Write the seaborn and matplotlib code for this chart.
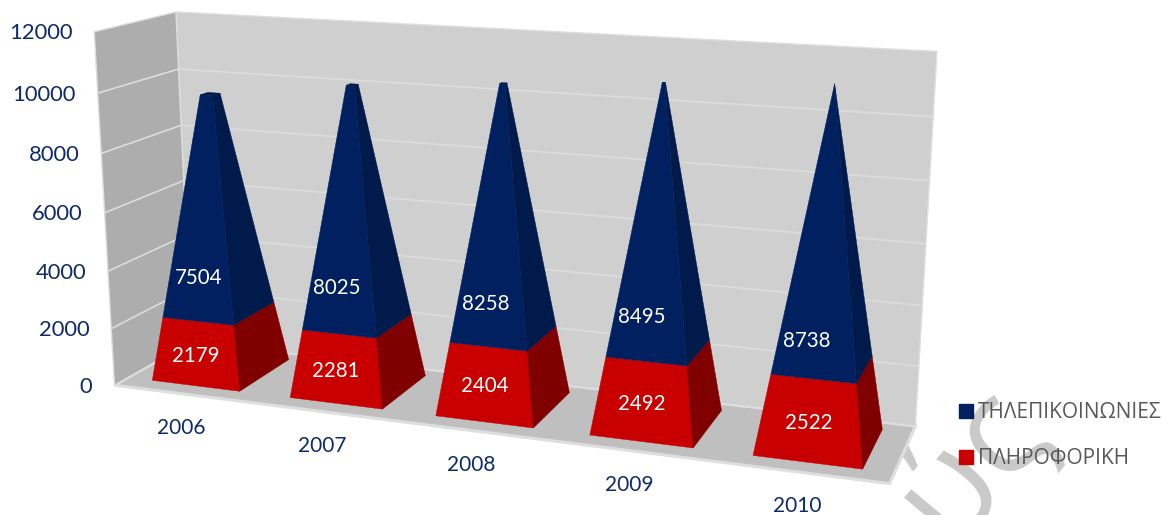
import numpy as np
import pandas as pd
import seaborn as sns
import matplotlib
matplotlib.use("Agg")
import matplotlib.pyplot as plt
from matplotlib.patches import Patch, Polygon

years = ["2006", "2007", "2008", "2009", "2010"]
informatics = [2179, 2281, 2404, 2492, 2522]
telecoms = [7504, 8025, 8258, 8495, 8738]
value_ticks = [0, 2000, 4000, 6000, 8000, 10000, 12000]
series_names = ["ΤΗΛΕΠΙΚΟΙΝΩΝΙΕΣ", "ΠΛΗΡΟΦΟΡΙΚΗ"]

frame = pd.DataFrame({"year": years, "informatics": informatics, "telecoms": telecoms})

sns.set_theme(style="white")
plt.rcParams["font.family"] = ["Lato", "Open Sans", "DejaVu Sans"]

NAVY, NAVY_SIDE = "#002060", "#001A4B"
RED, RED_SIDE = "#C80000", "#800000"
AXIS_TEXT = "#0E2A69"

# Camera calibration: box coordinates (along, depth, value/12000) to canvas pixels.
camera_refs = [
    ((0, 0, 0), (115, 384)), ((0, 0, 1), (94, 32)), ((0, 1, 1), (176, 12)),
    ((0, 1, 0), (191, 343)), ((1, 1, 1), (937, 51)), ((1, 1, 0), (915, 425)),
    ((1, 0, 0), (890, 484)), ((0, 0, 5 / 6), (98, 94)), ((0, 0, 1 / 3), (107, 271)),
    ((0, 1, 5 / 6), (179, 68)), ((1, 1, 5 / 6), (933, 117)), ((1, 1, 1 / 6), (919, 367)),
]


def solve_camera(refs):
    rows, rhs = [], []
    for (a, b, c), (u, v) in refs:
        rows.append([a, b, c, 1, 0, 0, 0, 0, -u * a, -u * b, -u * c])
        rows.append([0, 0, 0, 0, a, b, c, 1, -v * a, -v * b, -v * c])
        rhs += [u, v]
    sol = np.linalg.lstsq(np.array(rows, float), np.array(rhs, float), rcond=None)[0]
    return np.append(sol, 1.0).reshape(3, 4)


CAMERA = solve_camera(camera_refs)


def project(along, depth, value):
    p = CAMERA @ np.array([along, depth, value / 12000.0, 1.0])
    return p[0] / p[2], p[1] / p[2]


fig = plt.figure(figsize=(11.63, 5.15), dpi=100)
ax = fig.add_axes([0, 0, 1, 1])
ax.set_xlim(0, 1163)
ax.set_ylim(515, 0)
ax.axis("off")


def face(corners, color, z, edge=None, lw=0.0):
    ax.add_patch(Polygon([project(*c) for c in corners], closed=True, facecolor=color,
                         edgecolor=edge if edge else color, linewidth=lw if edge else 0.3, zorder=z))


# Background watermark lettering
ax.text(971, 463, "ύς", fontsize=100, color="#C9C9C9", rotation=50, rotation_mode="anchor",
        ha="center", va="center", family=["Open Sans", "DejaVu Sans"], zorder=0.5)

# Walls and floor
TOP = value_ticks[-1]
EDGE = "#DEDEDE"
face([(0, 0, 0), (1, 0, 0), (1, 1, 0), (0, 1, 0)], "#BFBFBF", 1, EDGE, 2.2)
face([(0, 1, 0), (1, 1, 0), (1, 1, TOP), (0, 1, TOP)], "#CFCFCF", 1.1, EDGE, 1.0)
face([(0, 0, 0), (0, 1, 0), (0, 1, TOP), (0, 0, TOP)], "#ADADAD", 1.2, EDGE, 1.0)

for tick in value_ticks[1:-1]:
    ax.plot(*zip(project(0, 0, tick), project(0, 1, tick), project(1, 1, tick)),
            color="#DCDCDC", lw=1.2, zorder=1.5, solid_joinstyle="miter")

for tick in value_ticks:
    x, y = project(0, 0, tick)
    ax.text(x - 22, y + 1.5, str(tick), color=AXIS_TEXT, fontsize=15.8, ha="right", va="center", zorder=3)

# Stacked pyramids, all narrowing to the same apex at the largest total
apex = (frame["informatics"] + frame["telecoms"]).max()
half_width, depth_mid, half_depth = 0.064, 0.52, 0.35
# Height above the red block at which each navy label sits, and its sideways nudge in pixels
navy_label_lift = [1440, 1500, 1370, 1360, 1150]
navy_label_nudge = [-1, -4, -5, -7, -9]


def frustum(centre, low, high, front_col, side_col, z):
    def corner(sx, sd, v):
        s = 1 - v / apex
        return (centre + sx * half_width * s, depth_mid + sd * half_depth * s, v)
    face([corner(-1, -1, low), corner(1, -1, low), corner(1, -1, high), corner(-1, -1, high)], front_col, z)
    face([corner(1, -1, low), corner(1, 1, low), corner(1, 1, high), corner(1, -1, high)], side_col, z)
    return corner


for i, row in frame.iterrows():
    centre = (i + 0.5) / len(frame)
    red_top = row["informatics"]
    total = red_top + row["telecoms"]
    z = 5 + i
    frustum(centre, 0, red_top, RED, RED_SIDE, z)
    corner = frustum(centre, red_top, total, NAVY, NAVY_SIDE, z)
    if total < apex:
        face([corner(-1, -1, total), corner(1, -1, total), corner(1, 1, total), corner(-1, 1, total)],
             NAVY_SIDE, z)

    s_mid = 1 - (red_top / 2) / apex
    x, y = project(centre, depth_mid - half_depth * s_mid, red_top / 2)
    ax.text(x - 1.5, y + 2, str(row["informatics"]), color="white", fontsize=14.8, ha="center", va="center", zorder=20)
    level = red_top + navy_label_lift[i]
    s_mid = 1 - level / apex
    x, y = project(centre, depth_mid - half_depth * s_mid, level)
    ax.text(x + navy_label_nudge[i], y, str(row["telecoms"]), color="white", fontsize=14.8,
            ha="center", va="center", zorder=20)

    x, y = project(centre, 0, 0)
    ax.text(x - 1 - i * 0.8, y + 34, row["year"], color=AXIS_TEXT, fontsize=15, ha="center", va="center", zorder=3)

# Legend
handles = [Patch(facecolor=NAVY, edgecolor=NAVY), Patch(facecolor=RED, edgecolor=RED)]
legend = ax.legend(handles, series_names, loc="upper left", bbox_to_anchor=(955 / 1163, 1 - 398 / 515),
                   frameon=False, labelcolor="#595959", handlelength=0.67, handleheight=0.67,
                   handletextpad=0.25, labelspacing=1.19, borderpad=0.2, borderaxespad=0,
                   prop={"family": ["Open Sans", "DejaVu Sans"], "size": 15})
legend.set_zorder(30)

fig.savefig("out.png", dpi=100)
